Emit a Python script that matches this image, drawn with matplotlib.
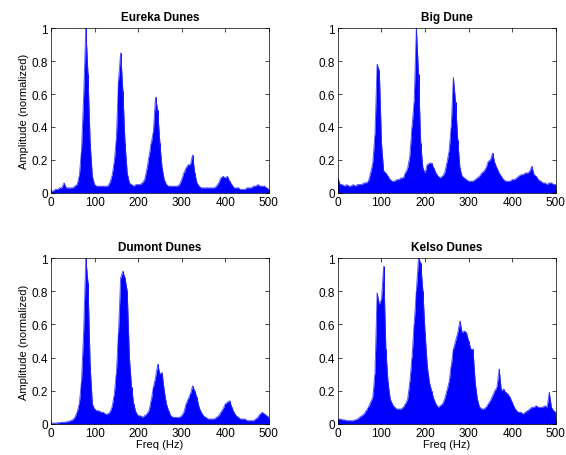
import numpy as np
import matplotlib
matplotlib.use("Agg")
import matplotlib.pyplot as plt

plt.rcParams['font.family'] = ['Liberation Sans', 'DejaVu Sans']

# frequency grid (Hz) shared by all four spectra
freq = np.arange(0, 505, 5)

# upper envelope of the normalized amplitude spectrum, one value per 5 Hz
eureka = [0.01, 0.01, 0.02, 0.02, 0.03, 0.03, 0.06, 0.03, 0.03, 0.03,
          0.03, 0.04, 0.05, 0.10, 0.25, 0.58, 1.00, 0.72, 0.30, 0.10,
          0.05, 0.04, 0.04, 0.04, 0.04, 0.04, 0.04, 0.06, 0.10, 0.18,
          0.32, 0.68, 0.85, 0.62, 0.30, 0.12, 0.06, 0.05, 0.04, 0.05,
          0.05, 0.05, 0.06, 0.08, 0.14, 0.22, 0.30, 0.37, 0.58, 0.50,
          0.30, 0.15, 0.08, 0.05, 0.04, 0.04, 0.04, 0.04, 0.04, 0.05,
          0.08, 0.12, 0.15, 0.17, 0.17, 0.23, 0.12, 0.06, 0.04, 0.03,
          0.03, 0.03, 0.03, 0.03, 0.03, 0.03, 0.04, 0.06, 0.09, 0.10,
          0.09, 0.10, 0.07, 0.05, 0.03, 0.03, 0.03, 0.02, 0.02, 0.02,
          0.03, 0.03, 0.03, 0.04, 0.04, 0.05, 0.04, 0.04, 0.04, 0.03,
          0.02]

big_dune = [0.09, 0.05, 0.05, 0.04, 0.05, 0.04, 0.04, 0.05, 0.04, 0.05,
            0.05, 0.05, 0.06, 0.06, 0.07, 0.12, 0.18, 0.35, 0.78, 0.74,
            0.30, 0.13, 0.12, 0.10, 0.08, 0.07, 0.07, 0.08, 0.08, 0.09,
            0.09, 0.12, 0.15, 0.22, 0.40, 0.55, 1.00, 0.72, 0.30, 0.15,
            0.12, 0.17, 0.18, 0.18, 0.15, 0.12, 0.10, 0.09, 0.10, 0.12,
            0.18, 0.25, 0.40, 0.70, 0.55, 0.32, 0.15, 0.10, 0.09, 0.08,
            0.07, 0.07, 0.07, 0.08, 0.09, 0.10, 0.12, 0.13, 0.15, 0.19,
            0.20, 0.24, 0.18, 0.15, 0.12, 0.10, 0.08, 0.07, 0.07, 0.07,
            0.08, 0.08, 0.09, 0.10, 0.11, 0.11, 0.12, 0.12, 0.13, 0.16,
            0.11, 0.10, 0.08, 0.07, 0.06, 0.06, 0.05, 0.06, 0.06, 0.05,
            0.05]

dumont = [0.005, 0.005, 0.005, 0.007, 0.008, 0.01, 0.01, 0.012, 0.015, 0.02,
          0.025, 0.04, 0.07, 0.12, 0.25, 0.55, 1.00, 0.85, 0.35, 0.12,
          0.09, 0.08, 0.08, 0.07, 0.07, 0.06, 0.06, 0.07, 0.10, 0.17,
          0.30, 0.55, 0.88, 0.92, 0.88, 0.80, 0.40, 0.22, 0.12, 0.07,
          0.05, 0.05, 0.04, 0.05, 0.06, 0.08, 0.14, 0.22, 0.28, 0.36,
          0.30, 0.31, 0.20, 0.12, 0.08, 0.05, 0.04, 0.04, 0.04, 0.04,
          0.05, 0.07, 0.12, 0.15, 0.18, 0.23, 0.20, 0.16, 0.10, 0.07,
          0.05, 0.04, 0.03, 0.03, 0.03, 0.03, 0.04, 0.05, 0.07, 0.09,
          0.12, 0.13, 0.14, 0.10, 0.07, 0.05, 0.04, 0.03, 0.03, 0.03,
          0.02, 0.02, 0.02, 0.02, 0.03, 0.04, 0.06, 0.07, 0.06, 0.05,
          0.04]

kelso = [0.03, 0.03, 0.025, 0.025, 0.02, 0.02, 0.02, 0.02, 0.025, 0.03,
         0.04, 0.05, 0.06, 0.08, 0.10, 0.13, 0.16, 0.30, 0.79, 0.72,
         0.75, 0.95, 0.45, 0.25, 0.15, 0.12, 0.10, 0.09, 0.09, 0.09,
         0.10, 0.12, 0.15, 0.25, 0.40, 0.60, 0.80, 1.00, 0.97, 0.80,
         0.55, 0.35, 0.25, 0.20, 0.15, 0.12, 0.10, 0.11, 0.12, 0.15,
         0.20, 0.25, 0.35, 0.45, 0.50, 0.55, 0.62, 0.55, 0.56, 0.55,
         0.50, 0.45, 0.45, 0.25, 0.15, 0.10, 0.09, 0.09, 0.10, 0.12,
         0.14, 0.17, 0.20, 0.22, 0.33, 0.20, 0.21, 0.19, 0.18, 0.16,
         0.13, 0.10, 0.08, 0.07, 0.07, 0.06, 0.07, 0.08, 0.09, 0.10,
         0.10, 0.11, 0.10, 0.10, 0.10, 0.11, 0.10, 0.19, 0.10, 0.08,
         0.07]

titles = ['Eureka Dunes', 'Big Dune', 'Dumont Dunes', 'Kelso Dunes']
spectra = [eureka, big_dune, dumont, kelso]

fig = plt.figure(figsize=(5.66, 4.56), dpi=100)
boxes = [[0.090, 0.575, 0.385, 0.361],
         [0.597, 0.575, 0.385, 0.361],
         [0.090, 0.068, 0.385, 0.364],
         [0.597, 0.068, 0.385, 0.364]]

for i, (box, title, amp) in enumerate(zip(boxes, titles, spectra)):
    ax = fig.add_axes(box)
    ax.fill_between(freq, 0, amp, color='#0000ff', linewidth=0)
    ax.vlines(freq, 0, amp, color='#0000ff', linewidth=0.7)
    ax.plot(freq, amp, color='#3030ff', linewidth=0.7, alpha=0.8)
    ax.set_xlim(0, 500)
    ax.set_ylim(0, 1)
    ax.set_xticks([0, 100, 200, 300, 400, 500])
    ax.set_yticks([0, 0.2, 0.4, 0.6, 0.8, 1])
    ax.set_yticklabels(['0', '0.2', '0.4', '0.6', '0.8', '1'])
    ax.tick_params(direction='in', top=True, right=True, length=3,
                   width=0.5, labelsize=8.5, pad=2)
    for s in ax.spines.values():
        s.set_linewidth(0.5)
    ax.set_title(title, fontsize=8.5, fontweight='bold', pad=6)
    if i % 2 == 0:
        ax.set_ylabel('Amplitude (normalized)', fontsize=8, labelpad=2)
    if i >= 2:
        ax.set_xlabel('Freq (Hz)', fontsize=8, labelpad=0)

fig.savefig('out.png', dpi=100)
